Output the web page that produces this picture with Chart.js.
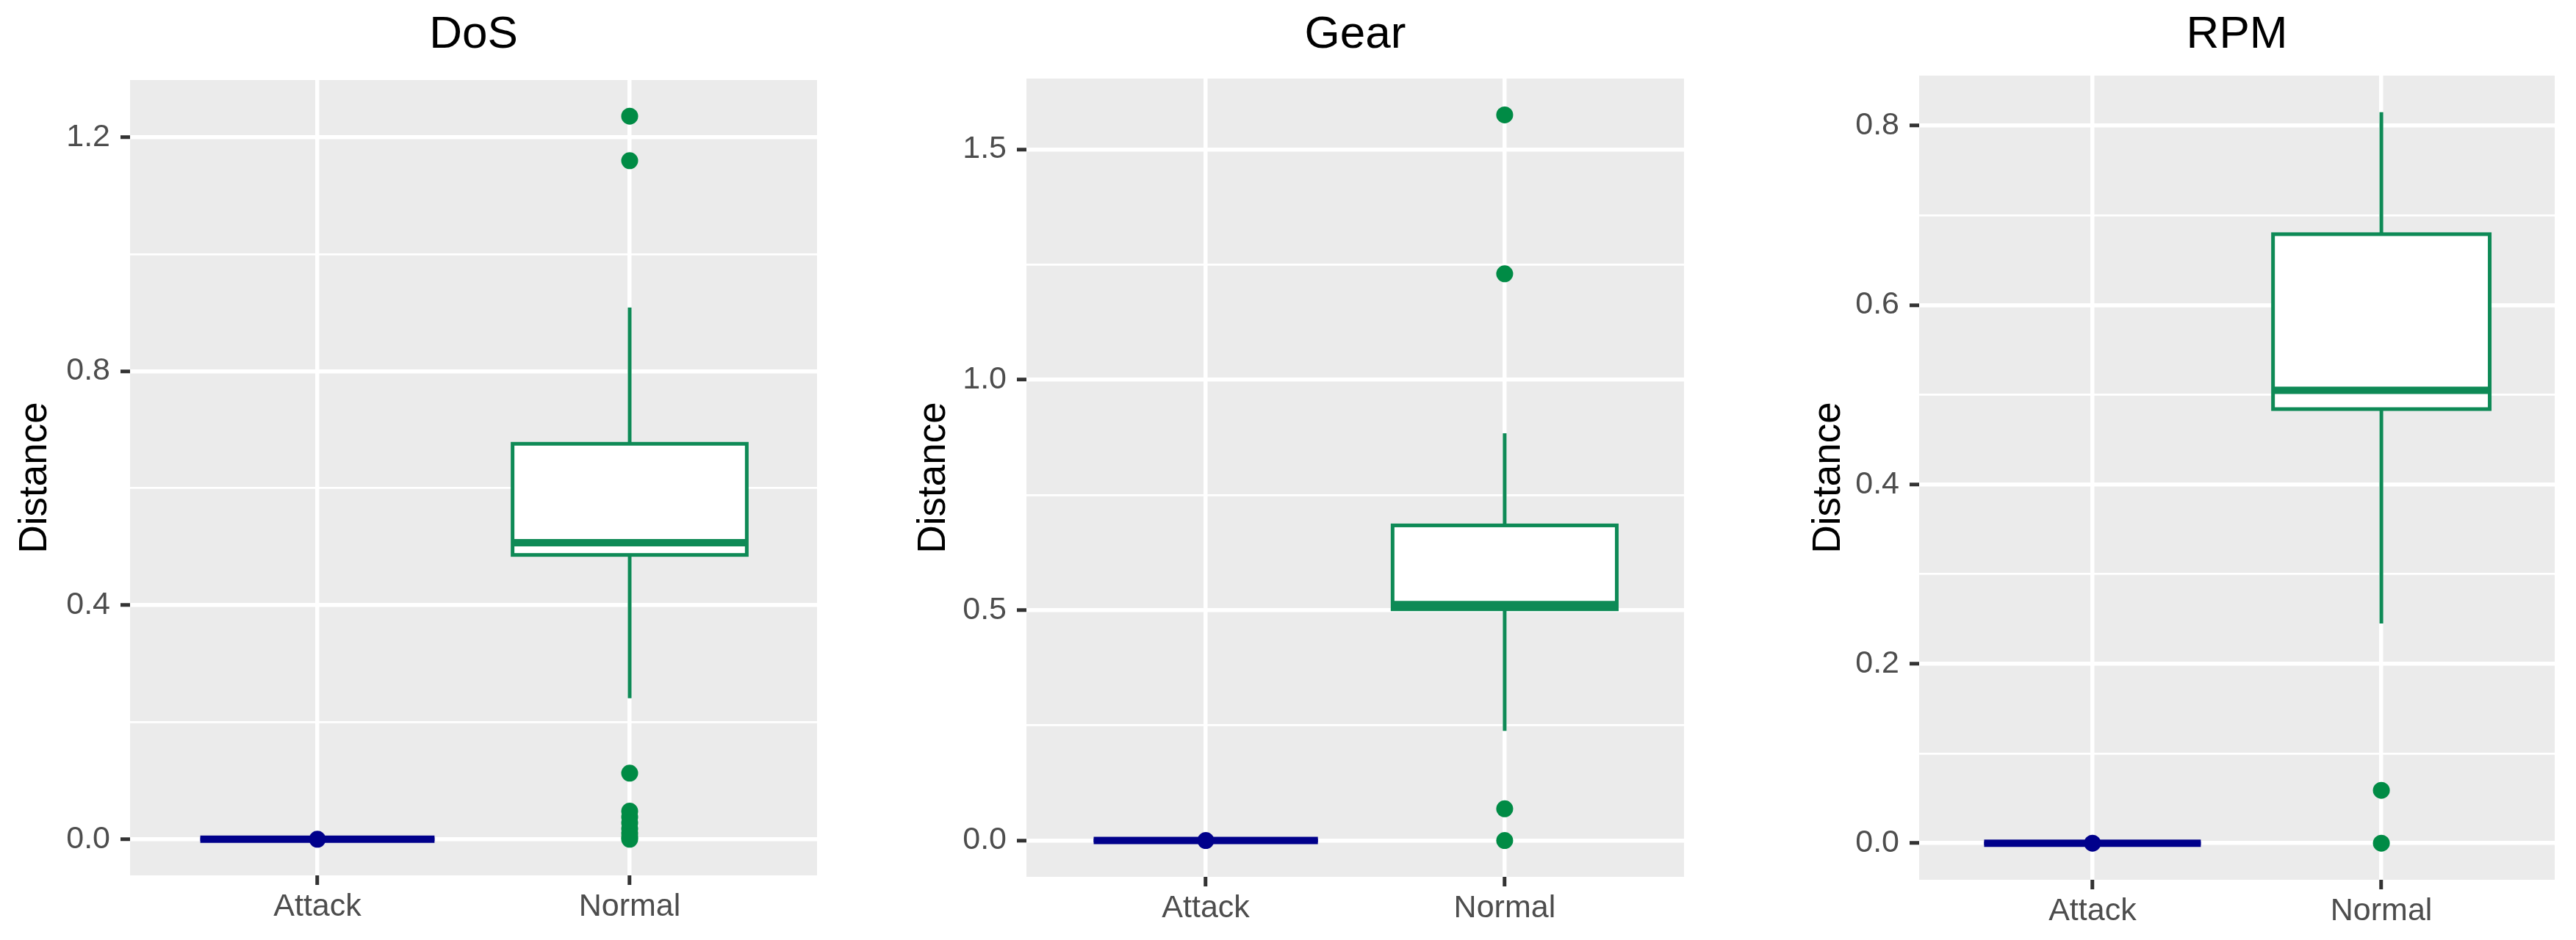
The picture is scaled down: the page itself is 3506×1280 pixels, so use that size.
<!DOCTYPE html>
<html>
<head>
<meta charset="utf-8">
<title>Distance by class</title>
<script src="https://cdn.jsdelivr.net/npm/chart.js@4.4.1/dist/chart.umd.min.js"></script>
<style>
  html, body { margin: 0; padding: 0; background: #ffffff; }
  #wrap { position: relative; width: 3506px; height: 1280px; overflow: hidden; }
  #wrap canvas { position: absolute; top: 0; }
</style>
</head>
<body>
<div id="wrap">
  <canvas id="dosChart" width="1170" height="1280" style="left:0px"></canvas>
  <canvas id="gearChart" width="1170" height="1280" style="left:1170px"></canvas>
  <canvas id="rpmChart" width="1166" height="1280" style="left:2340px"></canvas>
</div>
<script>
const categories = ['Attack', 'Normal'];

// box stats: [lower whisker, Q1, median, Q3, upper whisker]
const dosAttack = [0, 0, 0, 0, 0];
const dosNormal = [0.241, 0.486, 0.507, 0.676, 0.909];
const dosAttackOutliers = [0];
const dosNormalOutliers = [1.236, 1.160, 0.113, 0.048, 0.038, 0.028, 0.018, 0.010, 0.004, 0];
const dosTicks = [0, 0.4, 0.8, 1.2];

const gearAttack = [0, 0, 0, 0, 0];
const gearNormal = [0.238, 0.502, 0.512, 0.684, 0.884];
const gearAttackOutliers = [0];
const gearNormalOutliers = [1.575, 1.230, 0.069, 0];
const gearTicks = [0, 0.5, 1.0, 1.5];

const rpmAttack = [0, 0, 0, 0, 0];
const rpmNormal = [0.245, 0.484, 0.505, 0.679, 0.815];
const rpmAttackOutliers = [0];
const rpmNormalOutliers = [0.059, 0];
const rpmTicks = [0, 0.2, 0.4, 0.6, 0.8];

const attackColor = '#00008B';
const normalColor = '#0E8A56';
const normalPointColor = '#008B45';
const fontFamily = "'Liberation Sans', Arial, Helvetica, sans-serif";

// panel frame inside each canvas (ggplot panels are not evenly spaced)
const frames = {
  dos:  { width: 1170, left: 177, right: 1112, top: 109, bottom: 1192, yTitle: 48 },
  gear: { width: 1170, left: 227, right: 1122, top: 107, bottom: 1194, yTitle: 101 },
  rpm:  { width: 1166, left: 272, right: 1137, top: 103, bottom: 1198, yTitle: 149 }
};

function drawPanel(canvasId, title, attack, normal, attackOut, normalOut, ticks, frame) {
  const all = attack.concat(normal, attackOut, normalOut);
  const lo = Math.min(...all);
  const hi = Math.max(...all);
  const pad = (hi - lo) * 0.05; // ggplot default expansion
  const step = ticks[1] - ticks[0];

  // major lines at the ticks, minor lines halfway between
  const gridTicks = [];
  ticks.forEach(t => {
    gridTicks.push({ value: t, isMajor: true });
    if (t + step / 2 <= hi + pad) gridTicks.push({ value: t + step / 2, isMajor: false });
  });

  const boxes = [[1, attack, attackColor], [2, normal, normalColor]];

  const ggplotBoxes = {
    id: 'ggplotBoxes',
    beforeDraw(chart) {
      const a = chart.chartArea;
      const c = chart.ctx;
      c.save();
      c.fillStyle = '#EBEBEB';
      c.fillRect(a.left, a.top, a.right - a.left, a.bottom - a.top);
      c.restore();
    },
    beforeDatasetsDraw(chart) {
      const { ctx, scales: { x, y } } = chart;
      boxes.forEach(([pos, stats, color]) => {
        const xc = x.getPixelForValue(pos);
        const x0 = x.getPixelForValue(pos - 0.375);
        const x1 = x.getPixelForValue(pos + 0.375);
        const [wLo, q1, med, q3, wHi] = stats.map(v => y.getPixelForValue(v));
        ctx.save();
        ctx.strokeStyle = color;
        ctx.lineWidth = 5;
        ctx.beginPath();
        ctx.moveTo(xc, wHi); ctx.lineTo(xc, q3);
        ctx.moveTo(xc, q1); ctx.lineTo(xc, wLo);
        ctx.stroke();
        ctx.fillStyle = '#FFFFFF';
        ctx.fillRect(x0, q3, x1 - x0, q1 - q3);
        ctx.strokeRect(x0, q3, x1 - x0, q1 - q3);
        ctx.lineWidth = 10;
        ctx.beginPath();
        ctx.moveTo(x0, med); ctx.lineTo(x1, med);
        ctx.stroke();
        ctx.restore();
      });
    }
  };

  return new Chart(document.getElementById(canvasId), {
    type: 'scatter',
    data: {
      datasets: [
        {
          label: categories[0],
          data: attackOut.map(v => ({ x: 1, y: v })),
          pointRadius: 11.5,
          pointBorderWidth: 0,
          pointBackgroundColor: attackColor
        },
        {
          label: categories[1],
          data: normalOut.map(v => ({ x: 2, y: v })),
          pointRadius: 11.5,
          pointBorderWidth: 0,
          pointBackgroundColor: normalPointColor
        }
      ]
    },
    plugins: [ggplotBoxes],
    options: {
      responsive: false,
      animation: false,
      layout: { padding: { left: 0, top: 0, right: frame.width - frame.right, bottom: 0 } },
      plugins: {
        legend: { display: false },
        tooltip: { enabled: false },
        title: {
          display: true,
          text: title,
          fullSize: false,
          color: '#000000',
          font: { family: fontFamily, size: 62, weight: 'normal' },
          padding: { top: 11, bottom: frame.top - 11 - 62 * 1.2 }
        }
      },
      scales: {
        x: {
          type: 'linear',
          min: 0.4,
          max: 2.6,
          bounds: 'data',
          afterBuildTicks: s => { s.ticks = categories.map((c, i) => ({ value: i + 1, isMajor: true })); },
          afterFit: s => { s.height = 1280 - frame.bottom; },
          border: { display: false },
          grid: { color: '#FFFFFF', lineWidth: 5.5, tickColor: '#333333', tickWidth: 5, tickLength: 13 },
          ticks: {
            color: '#4D4D4D',
            font: { family: fontFamily, size: 43 },
            padding: 4,
            maxRotation: 0,
            autoSkip: false,
            callback: v => categories[Math.round(v) - 1]
          }
        },
        y: {
          type: 'linear',
          min: lo - pad,
          max: hi + pad,
          bounds: 'data',
          afterBuildTicks: s => { s.ticks = gridTicks.map(t => ({ value: t.value, isMajor: t.isMajor })); },
          afterFit: s => { s.width = frame.left; },
          border: { display: false },
          grid: {
            color: '#FFFFFF',
            lineWidth: c => (c.tick && c.tick.isMajor ? 5.5 : 2.75),
            tickColor: c => (c.tick && c.tick.isMajor ? '#333333' : 'rgba(0,0,0,0)'),
            tickWidth: 5,
            tickLength: 13
          },
          ticks: {
            color: '#4D4D4D',
            font: { family: fontFamily, size: 43 },
            padding: 14,
            autoSkip: false,
            callback: (v, i, tks) => (tks[i].isMajor ? v.toFixed(1) : '')
          },
          title: {
            display: true,
            text: 'Distance',
            color: '#000000',
            font: { family: fontFamily, size: 53 },
            padding: { top: frame.yTitle - 53 * 1.2 / 2, bottom: 0 }
          }
        }
      }
    }
  });
}

drawPanel('dosChart', 'DoS', dosAttack, dosNormal, dosAttackOutliers, dosNormalOutliers, dosTicks, frames.dos);
drawPanel('gearChart', 'Gear', gearAttack, gearNormal, gearAttackOutliers, gearNormalOutliers, gearTicks, frames.gear);
drawPanel('rpmChart', 'RPM', rpmAttack, rpmNormal, rpmAttackOutliers, rpmNormalOutliers, rpmTicks, frames.rpm);
</script>
</body>
</html>
